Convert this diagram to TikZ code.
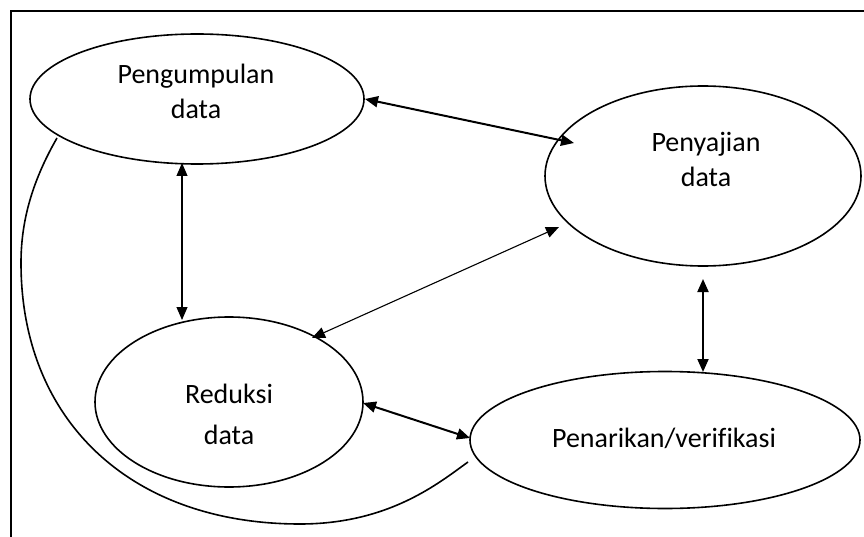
\documentclass[tikz,border=0pt]{standalone}
\usepackage{fontspec}
\setmainfont[Ligatures=NoCommon]{Carlito}
\usetikzlibrary{arrows.meta,calc,shapes.geometric}
\begin{document}
\begin{tikzpicture}[x=1pt,y=-1pt,
  ell/.style={draw,ellipse,line width=1.6pt,inner sep=0pt,outer sep=0pt},
  lbl/.style={anchor=base,inner sep=0pt,font=\fontsize{28}{34}\selectfont},
  thick2/.style={line width=2pt,{Triangle[length=13pt,width=11pt]}-{Triangle[length=13pt,width=11pt]}},
  thin1/.style={line width=1.1pt,{Triangle[length=13pt,width=11pt]}-{Triangle[length=13pt,width=11pt]}},
  frame/.style={line width=2.6pt}]
\useasboundingbox (0,0) rectangle (864,537);
\draw[frame] (866,11) -- (11,11) -- (11,540);
% ellipses
\node[ell,minimum width=334pt,minimum height=130pt] (pd) at (197,99) {};
\node[ell,minimum width=316pt,minimum height=180pt] (ps) at (703,176) {};
\node[ell,minimum width=268pt,minimum height=170pt] (rd) at (229,402) {};
\node[ell,minimum width=390pt,minimum height=137pt] (pk) at (665,440) {};
% labels
\node[lbl] (pd1) at (196,84) {Pengumpulan};
\node[lbl] (pd2) at (196,119) {data};
\node[lbl] (ps1) at (706,152) {Penyajian};
\node[lbl] (ps2) at (706,187) {data};
\node[lbl] (rd1) at (229,403) {Reduksi};
\node[lbl] (rd2) at (229,444) {data};
\node[lbl] (pk1) at (664,447) {Penarikan/verifikasi};
% connectors
\draw[thick2] ($(pd.center)+(168,0)$) -- ($(ps.center)+(-129,-33)$);
\draw[thin1] ($(pd.center)+(-15,64)$) -- ($(rd.center)+(-47,-82)$);
\draw[thin1] ($(ps.center)+(-144,51)$) -- ($(rd.center)+(83,-64)$);
\draw[thick2] ($(ps.center)+(0,103)$) -- ($(pk.center)+(38,-68)$);
\draw[thick2] ($(rd.center)+(134,1)$) -- ($(pk.center)+(-195,-2)$);
% curve
\coordinate (cA) at ($(pd.center)+(-140,39)$);
\coordinate (cB) at ($(pk.center)+(-197,22)$);
\draw[line width=1.6pt] (cA) .. controls (30,185) and (21,225) .. (21,263)
  .. controls (21,420) and (130,524) .. (300,524)
  .. controls (390,524) and (440,482) .. (cB);
\end{tikzpicture}
\end{document}
